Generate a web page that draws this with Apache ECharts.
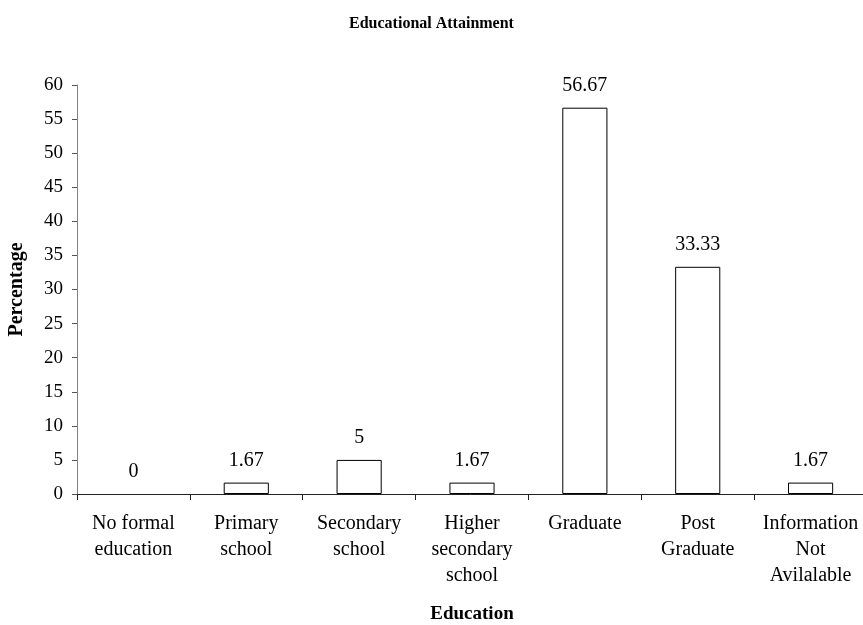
<!DOCTYPE html>
<html>
<head>
<meta charset="utf-8">
<script src="https://cdn.jsdelivr.net/npm/echarts@6/dist/echarts.min.js"></script>
<style>
  html, body { margin: 0; padding: 0; background: #fff; }
  #chart { width: 863px; height: 625px; }
</style>
</head>
<body>
<div id="chart"></div>
<script>
// Education levels and share of respondents (%)
const categories = [
  'No formal\neducation',
  'Primary\nschool',
  'Secondary\nschool',
  'Higher\nsecondary\nschool',
  'Graduate',
  'Post\nGraduate',
  'Information\nNot\nAvilalable'
];
const percentages = [0, 1.67, 5, 1.67, 56.67, 33.33, 1.67];

const serif = '"Liberation Serif", "Times New Roman", serif';

// a zero-height bar should leave no outline on the axis
const barData = percentages.map(v => ({
  value: v,
  itemStyle: v === 0 ? { borderWidth: 0 } : undefined
}));

const chart = echarts.init(document.getElementById('chart'));
chart.setOption({
  animation: false,
  backgroundColor: '#fff',
  title: {
    text: 'Educational Attainment',
    left: 'center',
    top: 11,
    textStyle: { fontFamily: serif, fontSize: 16, fontWeight: 'bold', color: '#000' }
  },
  grid: { left: 77, top: 85, width: 790, height: 409, outerBoundsMode: 'none' },
  xAxis: {
    type: 'category',
    data: categories,
    name: 'Education',
    nameLocation: 'middle',
    nameGap: 111,
    nameTextStyle: { fontFamily: serif, fontSize: 19, fontWeight: 'bold', color: '#000' },
    axisLine: { lineStyle: { color: '#222', width: 1 } },
    axisTick: { show: true, length: 6, alignWithLabel: false, lineStyle: { color: '#222' } },
    axisLabel: {
      interval: 0,
      margin: 17,
      fontFamily: serif,
      fontSize: 20,
      lineHeight: 26,
      color: '#000'
    },
    splitLine: { show: false }
  },
  yAxis: {
    type: 'value',
    min: 0,
    max: 60,
    interval: 5,
    name: 'Percentage',
    nameLocation: 'middle',
    nameGap: 50,
    nameRotate: 90,
    nameTextStyle: { fontFamily: serif, fontSize: 20, fontWeight: 'bold', color: '#000' },
    axisLine: { show: true, lineStyle: { color: '#808080', width: 1 } },
    axisTick: { show: true, length: 5, lineStyle: { color: '#555' } },
    axisLabel: { margin: 14, fontFamily: serif, fontSize: 19, color: '#000' },
    splitLine: { show: false }
  },
  series: [{
    type: 'bar',
    data: barData,
    barWidth: '40%',
    itemStyle: { color: '#fff', borderColor: '#000', borderWidth: 1 },
    label: {
      show: true,
      position: 'top',
      distance: 12,
      fontFamily: serif,
      fontSize: 20,
      color: '#000'
    }
  }]
});
</script>
</body>
</html>
